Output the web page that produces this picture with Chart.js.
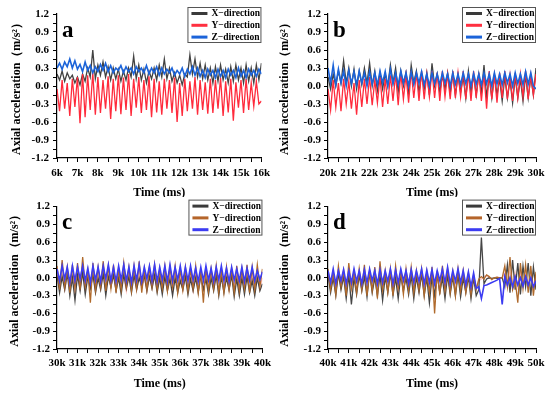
<!DOCTYPE html>
<html><head><meta charset="utf-8">
<script src="https://cdn.jsdelivr.net/npm/chart.js@4/dist/chart.umd.min.js"></script>
<style>
html,body{margin:0;padding:0;background:#fff;}
#wrap{position:relative;width:550px;height:394px;overflow:hidden;background:#fff;}
canvas{position:absolute;display:block;}
</style></head><body>
<div id="wrap">
<canvas id="ca" width="275" height="200" style="left:0;top:0;z-index:1"></canvas>
<canvas id="cb" width="275" height="200" style="left:275px;top:0;z-index:1"></canvas>
<canvas id="cc" width="275" height="197" style="left:0;top:197px;z-index:2;background:#fff"></canvas>
<canvas id="cd" width="275" height="197" style="left:275px;top:197px;z-index:2;background:#fff"></canvas>
</div>
<script>
// ---- data (sampled every 125 ms from each panel start) ----
const STEP_MS = 125;
const panelStarts = [6000, 20000, 30000, 40000];
const panelEnds = [16000, 30000, 40000, 50000];
const panelLetters = ['a', 'b', 'c', 'd'];
const seriesLabels = ['X\u2212direction', 'Y\u2212direction', 'Z\u2212direction'];
const yTickValues = [-1.2, -0.9, -0.6, -0.3, 0.0, 0.3, 0.6, 0.9, 1.2];

const xA = [0.20,0.10,0.25,0.08,0.22,0.12,0.18,0.05,0.15,0.02,
 0.20,0.08,0.30,0.15,0.60,0.12,0.35,0.18,0.40,0.15,
 0.32,0.10,0.30,0.12,0.28,0.08,0.25,0.10,0.30,0.15,
 0.50,0.12,0.35,0.10,0.28,0.05,0.25,0.12,0.30,0.10,
 0.35,0.15,0.45,0.12,0.30,0.08,0.22,0.05,0.18,0.02,
 0.20,0.15,0.52,0.20,0.45,0.15,0.38,0.12,0.35,0.10,
 0.30,0.05,0.32,0.08,0.35,0.10,0.28,0.05,0.32,0.08,
 0.35,0.10,0.30,0.05,0.35,0.08,0.30,0.05,0.35,0.10,
 0.38];
const yA = [-0.05,-0.42,0.10,-0.38,0.05,-0.50,0.12,-0.35,0.15,-0.62,
 0.20,-0.52,0.18,-0.40,0.22,-0.48,0.15,-0.45,0.10,-0.38,
 0.16,-0.55,0.12,-0.42,0.18,-0.47,0.14,-0.40,0.20,-0.50,
 0.12,-0.36,0.15,-0.45,0.10,-0.40,0.16,-0.52,0.12,-0.44,
 0.08,-0.48,0.12,-0.38,0.10,-0.45,0.14,-0.60,0.05,-0.50,
 0.12,-0.42,0.08,-0.38,0.15,-0.48,0.10,-0.40,0.06,-0.46,
 0.12,-0.45,0.10,-0.38,0.14,-0.50,0.08,-0.44,0.12,-0.58,
 0.06,-0.36,0.10,-0.45,0.12,-0.40,0.05,-0.34,0.08,-0.30,
 -0.25];
const zA = [0.30,0.38,0.28,0.40,0.32,0.45,0.30,0.42,0.28,0.36,
 0.24,0.40,0.26,0.34,0.22,0.32,0.24,0.36,0.26,0.38,
 0.24,0.34,0.22,0.30,0.26,0.34,0.22,0.32,0.24,0.30,
 0.20,0.32,0.24,0.30,0.22,0.34,0.20,0.30,0.22,0.32,
 0.18,0.30,0.20,0.28,0.22,0.30,0.18,0.26,0.20,0.30,
 0.16,0.28,0.20,0.32,0.18,0.30,0.16,0.26,0.14,0.28,
 0.18,0.26,0.14,0.28,0.16,0.26,0.14,0.28,0.18,0.26,
 0.14,0.30,0.16,0.26,0.14,0.28,0.18,0.26,0.16,0.28,
 0.20];

const xB = [0.15,-0.05,0.20,0.00,0.25,0.05,0.42,0.05,0.30,0.00,
 0.28,-0.05,0.25,0.02,0.30,0.05,0.38,0.00,0.25,-0.08,
 0.22,-0.05,0.20,0.00,0.35,0.05,0.30,-0.10,0.25,0.00,
 0.22,-0.12,0.35,0.05,0.25,-0.10,0.20,-0.05,0.22,-0.15,
 0.38,0.00,0.20,-0.10,0.18,-0.05,0.22,-0.12,0.20,-0.15,
 0.18,-0.10,0.15,-0.20,0.25,-0.10,0.18,-0.15,0.20,-0.12,
 0.35,-0.18,0.15,-0.20,0.18,-0.15,0.12,-0.25,0.15,-0.20,
 0.10,-0.28,0.15,-0.20,0.12,-0.25,0.18,-0.20,0.15,-0.15,
 0.30];
const yB = [-0.05,-0.40,0.10,-0.35,0.05,-0.42,0.12,-0.30,0.08,-0.38,
 0.05,-0.48,0.10,-0.35,0.12,-0.30,0.15,-0.32,0.10,-0.28,
 0.15,-0.35,0.12,-0.30,0.18,-0.25,0.20,-0.32,0.22,-0.22,
 0.18,-0.28,0.25,-0.20,0.22,-0.25,0.25,-0.22,0.20,-0.18,
 0.25,-0.20,0.22,-0.25,0.25,-0.18,0.20,-0.22,0.25,-0.20,
 0.22,-0.18,0.25,-0.22,0.20,-0.25,0.25,-0.20,0.22,-0.25,
 0.20,-0.38,0.25,-0.22,0.18,-0.28,0.22,-0.20,0.25,-0.22,
 0.18,-0.25,0.22,-0.20,0.20,-0.18,0.25,-0.22,0.18,-0.15,
 0.20];
const zB = [0.30,0.05,0.35,0.02,0.28,0.05,0.25,0.00,0.26,0.04,
 0.24,0.02,0.25,0.05,0.22,0.00,0.24,0.03,0.22,0.02,
 0.25,0.05,0.24,0.00,0.28,0.04,0.22,0.02,0.25,0.05,
 0.22,0.00,0.24,0.03,0.22,0.05,0.24,0.02,0.20,0.00,
 0.22,0.04,0.20,0.02,0.22,0.05,0.20,0.00,0.22,0.03,
 0.20,0.02,0.22,0.04,0.20,0.00,0.21,0.03,0.20,0.02,
 0.22,0.04,0.20,0.00,0.22,0.03,0.20,0.02,0.22,0.05,
 0.20,0.00,0.22,0.04,0.20,0.02,0.24,0.03,0.22,0.00,
 -0.05];

const xC = [0.05,-0.25,0.02,-0.20,0.08,-0.30,0.00,-0.38,0.05,-0.22,
 0.10,-0.28,0.02,-0.18,0.05,-0.25,0.00,-0.20,0.08,-0.30,
 0.02,-0.15,0.05,-0.22,0.00,-0.28,0.06,-0.18,0.02,-0.25,
 0.05,-0.20,0.00,-0.15,0.04,-0.22,0.02,-0.18,0.05,-0.25,
 0.00,-0.28,0.02,-0.22,-0.02,-0.30,0.00,-0.25,-0.05,-0.20,
 0.02,-0.28,-0.02,-0.22,0.00,-0.25,0.04,-0.20,-0.02,-0.28,
 0.00,-0.22,0.05,-0.30,0.02,-0.25,0.00,-0.20,0.04,-0.32,
 -0.02,-0.30,0.00,-0.28,0.02,-0.25,-0.05,-0.30,0.00,-0.22,
 -0.10];
const yC = [0.20,-0.20,0.30,-0.15,0.18,-0.25,0.22,-0.18,0.25,-0.20,
 0.35,-0.15,0.12,-0.42,0.25,-0.20,0.18,-0.15,0.28,-0.22,
 0.20,-0.18,0.22,-0.25,0.15,-0.20,0.25,-0.15,0.18,-0.22,
 0.20,-0.18,0.28,-0.25,0.15,-0.20,0.18,-0.15,0.22,-0.20,
 0.15,-0.18,0.20,-0.22,0.18,-0.15,0.20,-0.25,0.15,-0.20,
 0.18,-0.22,0.15,-0.18,0.20,-0.25,0.12,-0.42,0.18,-0.22,
 0.15,-0.18,0.20,-0.25,0.12,-0.25,0.18,-0.20,0.15,-0.25,
 0.20,-0.22,0.15,-0.18,0.22,-0.25,0.18,-0.20,0.22,-0.15,
 0.15];
const zC = [0.15,-0.05,0.20,-0.02,0.18,-0.08,0.20,-0.05,0.18,-0.02,
 0.20,-0.05,0.16,-0.08,0.20,-0.04,0.18,-0.06,0.20,-0.02,
 0.22,-0.05,0.18,-0.06,0.20,-0.04,0.22,-0.05,0.18,-0.08,
 0.20,-0.04,0.22,-0.06,0.18,-0.02,0.20,-0.05,0.22,-0.06,
 0.18,-0.04,0.20,-0.06,0.22,-0.05,0.18,-0.04,0.20,-0.06,
 0.18,-0.05,0.20,-0.04,0.16,-0.06,0.18,-0.05,0.20,-0.04,
 0.16,-0.06,0.18,-0.04,0.20,-0.05,0.16,-0.06,0.18,-0.04,
 0.15,-0.05,0.18,-0.06,0.16,-0.04,0.18,-0.05,0.12,-0.03,
 0.10];
const redC = [0.05,-0.18,0.10,-0.20,0.02,-0.15,0.08,-0.22,0.04,-0.18,
 0.06,-0.20,0.02,-0.16,0.08,-0.22,0.04,-0.18,0.06,-0.20,
 0.02,-0.15,0.05,-0.20,0.08,-0.18,0.02,-0.22,0.05,-0.16,
 0.04,-0.20,0.06,-0.18,0.02,-0.22,0.05,-0.17,0.03,-0.20,
 0.06,-0.18,0.02,-0.20,0.04,-0.22,0.06,-0.16,0.02,-0.20,
 0.05,-0.18,0.03,-0.22,0.06,-0.20,0.02,-0.18,0.04,-0.21,
 0.06,-0.19,0.02,-0.22,0.05,-0.18,0.03,-0.20,0.06,-0.17,
 0.04,-0.21,0.02,-0.18,0.05,-0.20,0.03,-0.22,0.05,-0.18,
 0.00];

const xD = [0.05,-0.25,0.00,-0.30,0.08,-0.20,0.02,-0.35,0.05,-0.45,
 0.00,-0.28,0.05,-0.22,0.02,-0.32,0.10,-0.25,0.00,-0.30,
 0.05,-0.38,0.02,-0.25,0.08,-0.30,0.00,-0.35,0.05,-0.22,
 0.00,-0.28,0.04,-0.35,0.02,-0.25,0.06,-0.30,0.00,-0.42,
 0.02,-0.30,0.05,-0.25,0.00,-0.35,0.04,-0.28,0.02,-0.30,
 0.05,-0.32,0.00,-0.25,0.02,-0.35,0.00,-0.30,-0.20,0.68,
 -0.10,-0.02,0.00,-0.01,0.00,-0.01,0.00,0.00,-0.15,0.22,
 -0.25,0.30,-0.20,0.25,-0.28,0.20,-0.15,0.25,-0.30,0.18,
 -0.20];
const yD = [0.15,-0.20,0.10,-0.28,0.20,-0.15,0.12,-0.30,0.25,-0.18,
 0.10,-0.25,0.15,-0.20,0.22,-0.30,0.12,-0.22,0.18,-0.35,
 0.28,-0.20,0.12,-0.25,0.15,-0.30,0.20,-0.18,0.10,-0.28,
 0.15,-0.22,0.18,-0.25,0.12,-0.20,0.15,-0.30,0.10,-0.25,
 0.18,-0.60,0.12,-0.28,0.20,-0.22,0.15,-0.25,0.10,-0.30,
 0.15,-0.22,0.12,-0.25,0.08,-0.28,0.05,-0.20,-0.02,0.02,
 -0.02,0.05,0.02,-0.03,0.00,0.01,0.00,0.00,0.20,-0.15,
 0.35,-0.20,-0.05,-0.42,0.25,-0.18,0.22,-0.25,0.20,-0.30,
 0.10];
const zD = [0.12,-0.08,0.15,-0.10,0.12,-0.05,0.14,-0.10,0.12,-0.08,
 0.15,-0.06,0.12,-0.10,0.14,-0.08,0.15,-0.05,0.12,-0.10,
 0.14,-0.08,0.12,-0.06,0.15,-0.10,0.13,-0.08,0.15,-0.05,
 0.12,-0.10,0.14,-0.08,0.12,-0.06,0.15,-0.10,0.13,-0.08,
 0.14,-0.10,0.12,-0.05,0.15,-0.08,0.18,-0.10,0.12,-0.06,
 0.15,-0.08,0.12,-0.12,0.10,-0.15,0.08,-0.18,-0.15,-0.35,
 -0.13,-0.12,-0.10,-0.08,-0.06,-0.04,-0.01,-0.45,0.02,-0.12,
 0.00,-0.15,0.02,-0.12,0.00,-0.14,0.02,-0.12,0.00,-0.15,
 -0.05];
const redD = [0.05,-0.18,0.10,-0.20,0.02,-0.15,0.08,-0.22,0.04,-0.18,
 0.06,-0.20,0.02,-0.16,0.08,-0.22,0.04,-0.18,0.06,-0.20,
 0.02,-0.15,0.05,-0.20,0.08,-0.18,0.02,-0.22,0.05,-0.16,
 0.04,-0.20,0.06,-0.18,0.02,-0.22,0.05,-0.17,0.03,-0.20,
 0.06,-0.18,0.02,-0.20,0.04,-0.22,0.06,-0.16,0.02,-0.20,
 0.05,-0.18,0.03,-0.22,0.06,-0.20,0.02,-0.18,-0.05,-0.02,
 0.02,0.04,0.00,-0.02,0.00,0.01,0.00,0.00,0.08,-0.15,
 0.10,-0.12,0.08,-0.15,0.10,-0.10,0.06,-0.14,0.08,-0.12,
 0.00];

// ---- styles ----
const SERIF = '"Liberation Serif", "Times New Roman", serif';
const colorsTop = {x: 'rgba(45,45,45,0.9)', y: '#ff2b3c', z: '#1b63d9', lx: '#3a3a3a', ly: '#ff3040', lz: '#1b63d9'};
const colorsBot = {x: 'rgba(50,50,50,0.9)', y: '#b06a2c', z: '#3c3cf2', lx: '#3a3a3a', ly: '#b5652a', lz: '#3c3cf2'};
const lineWidths = {x: 1.3, y: 1.3, z: 1.6, bg: 1.4};

function toPoints(t0, arr) {
  return arr.map((v, i) => ({x: t0 + i * STEP_MS, y: v}));
}

const decor = {
  id: 'decor',
  afterDraw(chart, args, opts) {
    const {ctx, chartArea: ca} = chart;
    ctx.save();
    ctx.fillStyle = '#000';
    ctx.textAlign = 'left';
    ctx.textBaseline = 'alphabetic';
    ctx.font = 'bold 23px ' + SERIF;
    ctx.fillText(opts.letter, ca.left + 5, ca.top + opts.letterDy);
    const bw = 74, bh = 36;
    const bx = ca.right - bw, by = ca.top - 7;
    ctx.fillStyle = '#fff';
    ctx.fillRect(bx, by, bw, bh);
    ctx.strokeStyle = '#555';
    ctx.lineWidth = 1;
    ctx.strokeRect(bx + 0.5, by + 0.5, bw - 1, bh - 1);
    ctx.font = 'bold 9.5px ' + SERIF;
    ctx.textBaseline = 'middle';
    opts.items.forEach((it, i) => {
      const y = by + 6.5 + i * 11.8;
      ctx.strokeStyle = it.color;
      ctx.lineWidth = 3;
      ctx.beginPath(); ctx.moveTo(bx + 4, y); ctx.lineTo(bx + 20, y); ctx.stroke();
      ctx.fillStyle = '#000';
      ctx.fillText(it.label, bx + 24, y + 0.5);
    });
    ctx.restore();
  }
};

function makeChart(id, idx, xs, ys, zs, reds, col, geo) {
  const t0 = panelStarts[idx], t1 = panelEnds[idx];
  const ds = [
    {label: seriesLabels[0], data: toPoints(t0, xs), borderColor: col.x, borderWidth: lineWidths.x, order: 3},
    {label: seriesLabels[1], data: toPoints(t0, ys), borderColor: col.y, borderWidth: lineWidths.y, order: 2},
    {label: seriesLabels[2], data: toPoints(t0, zs), borderColor: col.z, borderWidth: lineWidths.z, order: 1}
  ];
  if (reds) ds.push({label: 'bg', data: toPoints(t0, reds), borderColor: 'rgba(255,80,80,0.35)', borderWidth: lineWidths.bg, order: 4});
  ds.forEach(d => { d.pointRadius = 0; d.tension = 0; d.fill = false; });
  const tickFont = {family: SERIF, weight: 'bold', size: 11};
  new Chart(document.getElementById(id), {
    type: 'line',
    data: {datasets: ds},
    options: {
      responsive: false, animation: false, parsing: false, normalized: true,
      layout: {padding: {left: 0, right: geo.padR, top: geo.padT, bottom: 0}},
      plugins: {
        legend: {display: false}, tooltip: {enabled: false},
        decor: {letter: panelLetters[idx], letterDy: geo.letterDy, items: [
          {label: seriesLabels[0], color: col.lx},
          {label: seriesLabels[1], color: col.ly},
          {label: seriesLabels[2], color: col.lz}]}
      },
      scales: {
        x: {
          type: 'linear', min: t0, max: t1,
          afterFit: s => { s.height = geo.xH; },
          ticks: {stepSize: 500, autoSkip: false, maxRotation: 0, padding: geo.xTickPad, color: '#000', font: tickFont,
            callback: v => (v % 1000 === 0 ? (v / 1000) + 'k' : '')},
          grid: {drawOnChartArea: false, drawTicks: true, tickLength: 4, color: '#000', lineWidth: 1},
          border: {display: true, color: '#000', width: 1.2},
          title: {display: true, text: 'Time (ms)', color: '#000', font: {family: SERIF, weight: 'bold', size: 12},
            padding: {top: 0, bottom: geo.xTitlePad}}
        },
        y: {
          type: 'linear', min: -1.2, max: 1.2,
          afterFit: s => { s.width = geo.yW; },
          ticks: {stepSize: 0.15, autoSkip: false, maxTicksLimit: 40, padding: geo.yTickPad, color: '#000', font: tickFont,
            callback: v => {
              const hit = yTickValues.find(t => Math.abs(t - v) < 1e-6);
              return hit === undefined ? '' : hit.toFixed(1);
            }},
          grid: {drawOnChartArea: false, drawTicks: true, tickLength: 4, color: '#000', lineWidth: 1},
          border: {display: true, color: '#000', width: 1.2},
          title: {display: true, text: 'Axial acceleration\uFF08m/s\u00B2\uFF09', color: '#000',
            font: {family: SERIF, weight: 'bold', size: 12}, padding: {top: geo.yTitlePad, bottom: 0}}
        }
      }
    },
    plugins: [decor]
  });
}

makeChart('ca', 0, xA, yA, zA, null, colorsTop,
  {padR: 10, padT: 14, xH: 42, yW: 57, xTickPad: 5, yTickPad: 4, xTitlePad: 0, yTitlePad: 10, letterDy: 23});
makeChart('cb', 1, xB, yB, zB, null, colorsTop,
  {padR: 14, padT: 14, xH: 42, yW: 53, xTickPad: 5, yTickPad: 3, xTitlePad: 0, yTitlePad: 3, letterDy: 23});
makeChart('cc', 2, xC, yC, zC, redC, colorsBot,
  {padR: 10, padT: 7, xH: 45, yW: 57, xTickPad: 4, yTickPad: 3, xTitlePad: 3, yTitlePad: 8, letterDy: 22});
makeChart('cd', 3, xD, yD, zD, redD, colorsBot,
  {padR: 14, padT: 7, xH: 45, yW: 53, xTickPad: 4, yTickPad: 3, xTitlePad: 3, yTitlePad: 3, letterDy: 22});
</script>
</body></html>
